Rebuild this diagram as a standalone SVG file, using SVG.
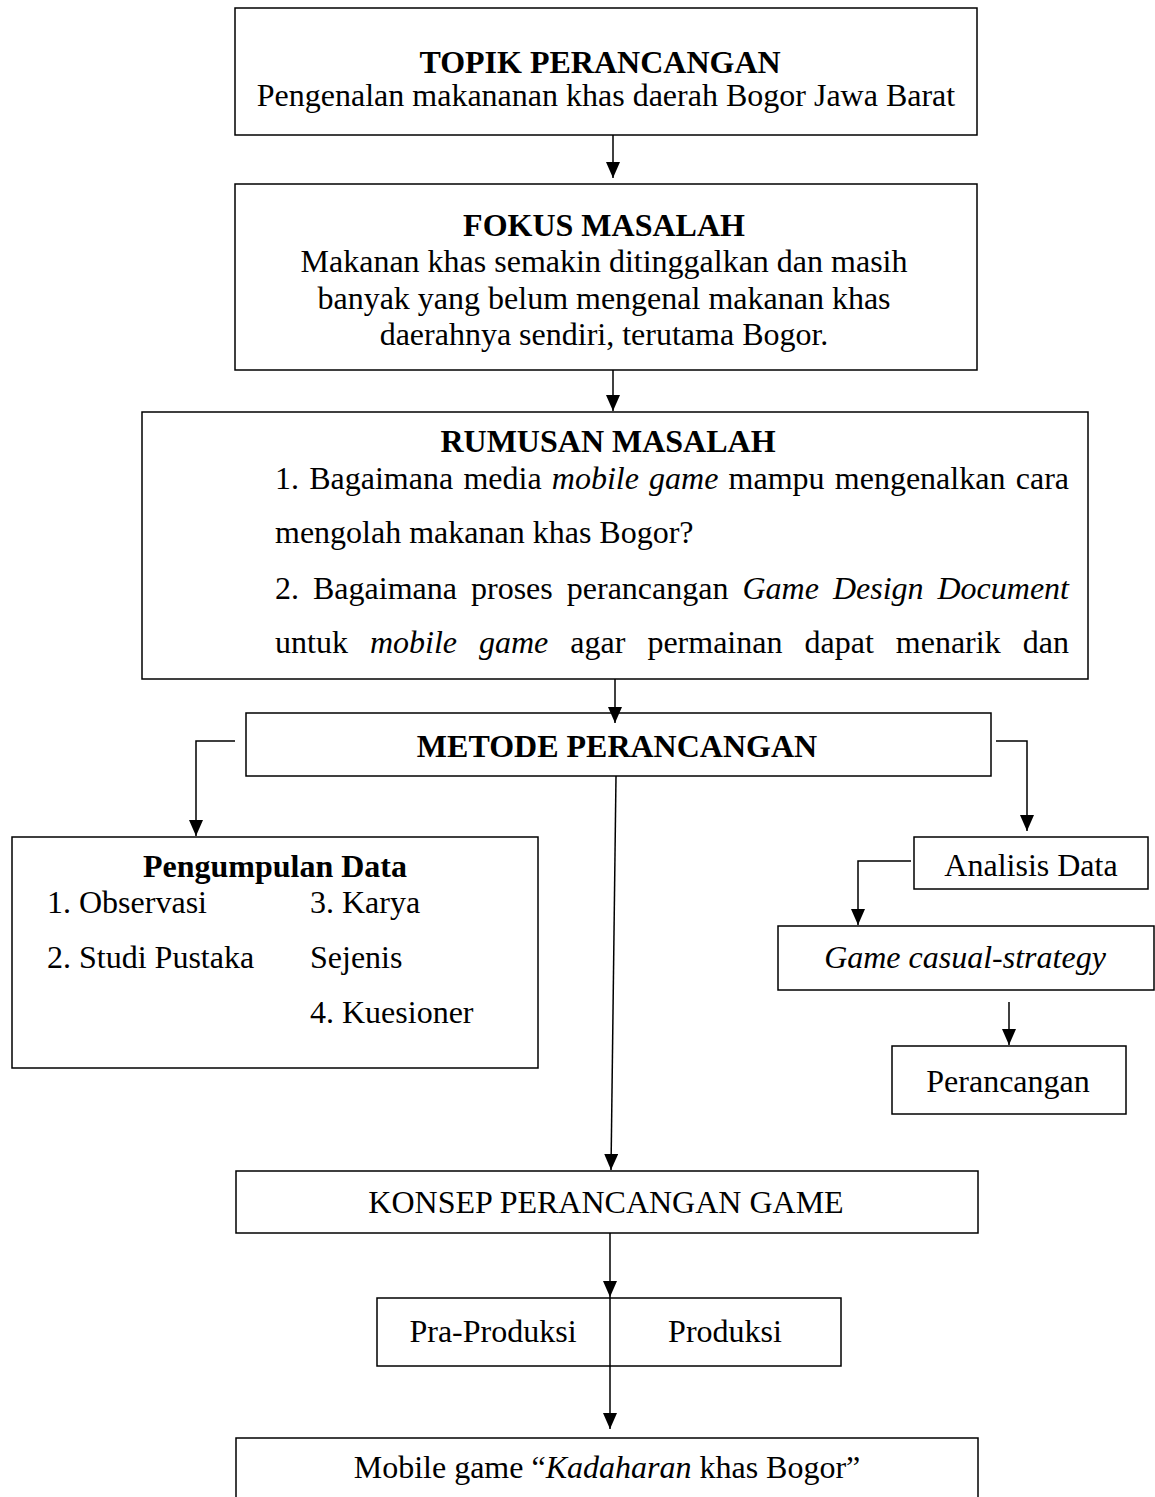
<svg xmlns="http://www.w3.org/2000/svg" width="1155" height="1497" viewBox="0 0 1155 1497">
<style>
.box{fill:#fff;stroke:#000;stroke-width:1.5}
.t{font-family:"Liberation Serif","Times New Roman",serif;font-size:32px;fill:#000}
.c{text-anchor:middle}
.b{font-weight:bold}
.i{font-style:italic}
.ln{fill:none;stroke:#000;stroke-width:1.5}
</style>
<defs>
<marker id="ah" markerUnits="userSpaceOnUse" markerWidth="16" markerHeight="16" refX="16" refY="7" orient="auto">
<path d="M0,0 L16,7 L0,14 Z" fill="#000"/>
</marker>
</defs>
<rect width="1155" height="1497" fill="#fff"/>
<g id="topik">
<rect class="box" x="235" y="8" width="742" height="127"/>
<text class="t c b" x="600" y="73">TOPIK PERANCANGAN</text>
<text class="t c" x="606" y="106">Pengenalan makananan khas daerah Bogor Jawa Barat</text>
</g>
<g id="fokus">
<rect class="box" x="235" y="184" width="742" height="186"/>
<text class="t c b" x="604" y="236">FOKUS MASALAH</text>
<text class="t c" x="604" y="272">Makanan khas semakin ditinggalkan dan masih</text>
<text class="t c" x="604" y="309">banyak yang belum mengenal makanan khas</text>
<text class="t c" x="604" y="345">daerahnya sendiri, terutama Bogor.</text>
</g>
<g id="rumusan">
<rect class="box" x="142" y="412" width="946" height="267"/>
<text class="t c b" x="608" y="452">RUMUSAN MASALAH</text>
<text class="t" y="489"><tspan x="275">1.</tspan><tspan x="309.2">Bagaimana</tspan><tspan x="463.4">media</tspan><tspan x="551.8" class="i">mobile</tspan><tspan x="649.1" class="i">game</tspan><tspan x="728.6">mampu</tspan><tspan x="834.8">mengenalkan</tspan><tspan x="1069" text-anchor="end">cara</tspan></text>
<text class="t" x="275" y="543">mengolah makanan khas Bogor?</text>
<text class="t" y="599"><tspan x="275">2.</tspan><tspan x="313">Bagaimana</tspan><tspan x="471">proses</tspan><tspan x="566.8">perancangan</tspan><tspan x="742.5" class="i">Game</tspan><tspan x="832.9" class="i">Design</tspan><tspan x="1069" class="i" text-anchor="end">Document</tspan></text>
<text class="t" y="653"><tspan x="275">untuk</tspan><tspan x="369.9" class="i">mobile</tspan><tspan x="479" class="i">game</tspan><tspan x="570.3">agar</tspan><tspan x="647.4">permainan</tspan><tspan x="804.5">dapat</tspan><tspan x="895.8">menarik</tspan><tspan x="1069" text-anchor="end">dan</tspan></text>
</g>
<g id="metode">
<rect class="box" x="246" y="713" width="745" height="63"/>
<text class="t c b" x="617" y="757">METODE PERANCANGAN</text>
</g>
<g id="pengumpulan">
<rect class="box" x="12" y="837" width="526" height="231"/>
<text class="t c b" x="275" y="877">Pengumpulan Data</text>
<text class="t" x="47" y="913">1. Observasi</text>
<text class="t" x="47" y="968">2. Studi Pustaka</text>
<text class="t" x="310" y="913">3. Karya</text>
<text class="t" x="310" y="968">Sejenis</text>
<text class="t" x="310" y="1023">4. Kuesioner</text>
</g>
<g id="analisis">
<rect class="box" x="914" y="837" width="234" height="52"/>
<text class="t c" x="1031" y="876">Analisis Data</text>
</g>
<g id="game">
<rect class="box" x="778" y="926" width="376" height="64"/>
<text class="t c i" x="965" y="968">Game casual-strategy</text>
</g>
<g id="perancangan">
<rect class="box" x="892" y="1046" width="234" height="68"/>
<text class="t c" x="1008" y="1092">Perancangan</text>
</g>
<g id="konsep">
<rect class="box" x="236" y="1171" width="742" height="62"/>
<text class="t c" x="606" y="1213">KONSEP PERANCANGAN GAME</text>
</g>
<g id="produksi">
<rect class="box" x="377" y="1298" width="464" height="68"/>
<text class="t c" x="493" y="1342">Pra-Produksi</text>
<text class="t c" x="725" y="1342">Produksi</text>
</g>
<g id="hasil">
<rect class="box" x="236" y="1438" width="742" height="70"/>
<text class="t c" x="607" y="1478">Mobile game “<tspan class="i">Kadaharan</tspan> khas Bogor”</text>
</g>
<g id="connectors">
<line class="ln" x1="613" y1="135" x2="613" y2="178" marker-end="url(#ah)"/>
<line class="ln" x1="613" y1="370" x2="613" y2="411" marker-end="url(#ah)"/>
<line class="ln" x1="615" y1="679" x2="615" y2="723" marker-end="url(#ah)"/>
<polyline class="ln" points="235,741 196,741 196,836" marker-end="url(#ah)"/>
<polyline class="ln" points="996,741 1027,741 1027,831" marker-end="url(#ah)"/>
<polyline class="ln" points="911,861 858,861 858,925" marker-end="url(#ah)"/>
<line class="ln" x1="1009" y1="1002" x2="1009" y2="1045" marker-end="url(#ah)"/>
<line class="ln" x1="616" y1="776" x2="611" y2="1170" marker-end="url(#ah)"/>
<line class="ln" x1="610" y1="1233" x2="610" y2="1297" marker-end="url(#ah)"/>
<line class="ln" x1="610" y1="1297" x2="610" y2="1429" marker-end="url(#ah)"/>
</g>
</svg>
